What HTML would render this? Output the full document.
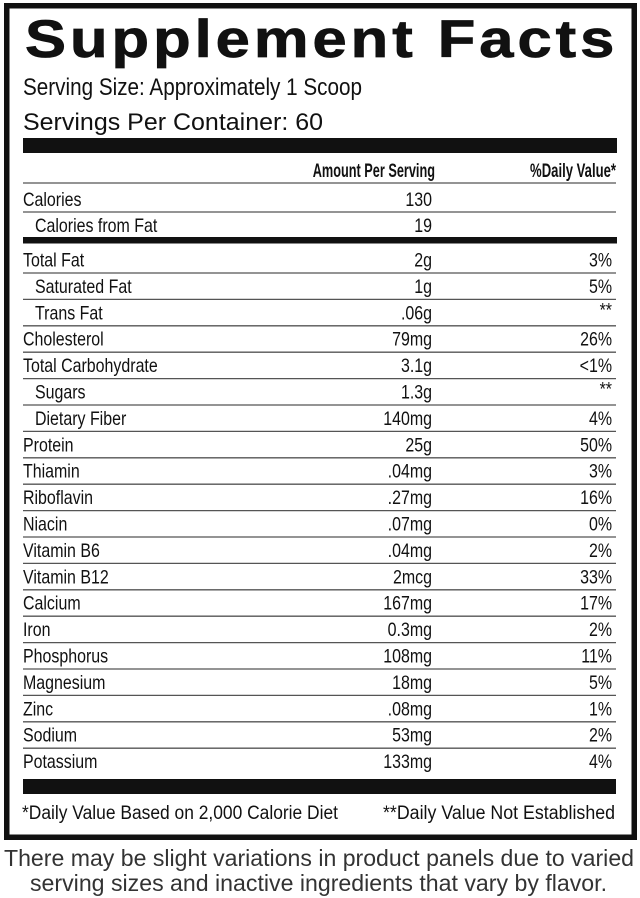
<!DOCTYPE html>
<html>
<head>
<meta charset="utf-8">
<style>
html,body{margin:0;padding:0;background:#fff;}
svg{display:block;}
text{font-family:"Liberation Sans",sans-serif;fill:#111;}
.r{font-size:19px;}
.b{font-weight:bold;}
</style>
</head>
<body>
<svg width="640" height="898" viewBox="0 0 640 898" xmlns="http://www.w3.org/2000/svg">
<rect x="0" y="0" width="640" height="898" fill="#fff"/>
<!-- outer border -->
<rect x="6.75" y="5.75" width="627.5" height="831.5" fill="none" stroke="#111" stroke-width="5.5"/>

<!-- title -->
<text class="b" transform="translate(25,57) scale(1.16,1)" font-size="53" stroke="#111" stroke-width="0.8" textLength="508" lengthAdjust="spacing">Supplement Facts</text>
<text x="23" y="95" font-size="24.5" textLength="339" lengthAdjust="spacingAndGlyphs">Serving Size: Approximately 1 Scoop</text>
<text x="23" y="130" font-size="24.5" textLength="300" lengthAdjust="spacingAndGlyphs">Servings Per Container: 60</text>

<!-- bars -->
<rect x="23" y="138" width="594" height="15" fill="#111"/>
<rect x="23" y="237" width="594" height="6.5" fill="#111"/>
<rect x="23" y="779" width="593" height="15" fill="#111"/>

<!-- header -->
<text class="r b" text-anchor="end" transform="translate(435,177) scale(0.67,1)">Amount Per Serving</text>
<text class="r b" text-anchor="end" transform="translate(616,177) scale(0.69,1)">%Daily Value*</text>
<line x1="23" y1="183" x2="616" y2="183" stroke="#555" stroke-width="1.3"/>

<text class="r" transform="translate(23,206) scale(0.84,1)">Calories</text>
<text class="r" text-anchor="end" transform="translate(432,206) scale(0.84,1)">130</text>
<line x1="23" y1="212" x2="616" y2="212" stroke="#555" stroke-width="1.3"/>
<text class="r" transform="translate(35,232) scale(0.84,1)">Calories from Fat</text>
<text class="r" text-anchor="end" transform="translate(432,232) scale(0.84,1)">19</text>

<!-- row lines -->
<g stroke="#555" stroke-width="1.3">
<line x1="23" y1="273" x2="616" y2="273"/>
<line x1="23" y1="299.4" x2="616" y2="299.4"/>
<line x1="23" y1="325.8" x2="616" y2="325.8"/>
<line x1="23" y1="352.2" x2="616" y2="352.2"/>
<line x1="23" y1="378.6" x2="616" y2="378.6"/>
<line x1="23" y1="405" x2="616" y2="405"/>
<line x1="23" y1="431.4" x2="616" y2="431.4"/>
<line x1="23" y1="457.8" x2="616" y2="457.8"/>
<line x1="23" y1="484.2" x2="616" y2="484.2"/>
<line x1="23" y1="510.6" x2="616" y2="510.6"/>
<line x1="23" y1="537" x2="616" y2="537"/>
<line x1="23" y1="563.4" x2="616" y2="563.4"/>
<line x1="23" y1="589.8" x2="616" y2="589.8"/>
<line x1="23" y1="616.2" x2="616" y2="616.2"/>
<line x1="23" y1="642.6" x2="616" y2="642.6"/>
<line x1="23" y1="669" x2="616" y2="669"/>
<line x1="23" y1="695.4" x2="616" y2="695.4"/>
<line x1="23" y1="721.8" x2="616" y2="721.8"/>
<line x1="23" y1="748.2" x2="616" y2="748.2"/>
</g>

<!-- rows -->
<g class="r">
<text class="r" transform="translate(23,266.5) scale(0.84,1)">Total Fat</text>
<text class="r" text-anchor="end" transform="translate(432,266.5) scale(0.84,1)">2g</text>
<text class="r" text-anchor="end" transform="translate(612,266.5) scale(0.84,1)">3%</text>

<text class="r" transform="translate(35,292.9) scale(0.84,1)">Saturated Fat</text>
<text class="r" text-anchor="end" transform="translate(432,292.9) scale(0.84,1)">1g</text>
<text class="r" text-anchor="end" transform="translate(612,292.9) scale(0.84,1)">5%</text>

<text class="r" transform="translate(35,319.3) scale(0.84,1)">Trans Fat</text>
<text class="r" text-anchor="end" transform="translate(432,319.3) scale(0.84,1)">.06g</text>
<text class="r" text-anchor="end" transform="translate(612,316.3) scale(0.84,1)" fill="#444">**</text>

<text class="r" transform="translate(23,345.7) scale(0.84,1)">Cholesterol</text>
<text class="r" text-anchor="end" transform="translate(432,345.7) scale(0.84,1)">79mg</text>
<text class="r" text-anchor="end" transform="translate(612,345.7) scale(0.84,1)">26%</text>

<text class="r" transform="translate(23,372.1) scale(0.84,1)">Total Carbohydrate</text>
<text class="r" text-anchor="end" transform="translate(432,372.1) scale(0.84,1)">3.1g</text>
<text class="r" text-anchor="end" transform="translate(612,372.1) scale(0.84,1)">&lt;1%</text>

<text class="r" transform="translate(35,398.5) scale(0.84,1)">Sugars</text>
<text class="r" text-anchor="end" transform="translate(432,398.5) scale(0.84,1)">1.3g</text>
<text class="r" text-anchor="end" transform="translate(612,395.5) scale(0.84,1)" fill="#444">**</text>

<text class="r" transform="translate(35,424.9) scale(0.84,1)">Dietary Fiber</text>
<text class="r" text-anchor="end" transform="translate(432,424.9) scale(0.84,1)">140mg</text>
<text class="r" text-anchor="end" transform="translate(612,424.9) scale(0.84,1)">4%</text>

<text class="r" transform="translate(23,451.3) scale(0.84,1)">Protein</text>
<text class="r" text-anchor="end" transform="translate(432,451.3) scale(0.84,1)">25g</text>
<text class="r" text-anchor="end" transform="translate(612,451.3) scale(0.84,1)">50%</text>

<text class="r" transform="translate(23,477.7) scale(0.84,1)">Thiamin</text>
<text class="r" text-anchor="end" transform="translate(432,477.7) scale(0.84,1)">.04mg</text>
<text class="r" text-anchor="end" transform="translate(612,477.7) scale(0.84,1)">3%</text>

<text class="r" transform="translate(23,504.1) scale(0.84,1)">Riboflavin</text>
<text class="r" text-anchor="end" transform="translate(432,504.1) scale(0.84,1)">.27mg</text>
<text class="r" text-anchor="end" transform="translate(612,504.1) scale(0.84,1)">16%</text>

<text class="r" transform="translate(23,530.5) scale(0.84,1)">Niacin</text>
<text class="r" text-anchor="end" transform="translate(432,530.5) scale(0.84,1)">.07mg</text>
<text class="r" text-anchor="end" transform="translate(612,530.5) scale(0.84,1)">0%</text>

<text class="r" transform="translate(23,556.9) scale(0.84,1)">Vitamin B6</text>
<text class="r" text-anchor="end" transform="translate(432,556.9) scale(0.84,1)">.04mg</text>
<text class="r" text-anchor="end" transform="translate(612,556.9) scale(0.84,1)">2%</text>

<text class="r" transform="translate(23,583.3) scale(0.84,1)">Vitamin B12</text>
<text class="r" text-anchor="end" transform="translate(432,583.3) scale(0.84,1)">2mcg</text>
<text class="r" text-anchor="end" transform="translate(612,583.3) scale(0.84,1)">33%</text>

<text class="r" transform="translate(23,609.7) scale(0.84,1)">Calcium</text>
<text class="r" text-anchor="end" transform="translate(432,609.7) scale(0.84,1)">167mg</text>
<text class="r" text-anchor="end" transform="translate(612,609.7) scale(0.84,1)">17%</text>

<text class="r" transform="translate(23,636.1) scale(0.84,1)">Iron</text>
<text class="r" text-anchor="end" transform="translate(432,636.1) scale(0.84,1)">0.3mg</text>
<text class="r" text-anchor="end" transform="translate(612,636.1) scale(0.84,1)">2%</text>

<text class="r" transform="translate(23,662.5) scale(0.84,1)">Phosphorus</text>
<text class="r" text-anchor="end" transform="translate(432,662.5) scale(0.84,1)">108mg</text>
<text class="r" text-anchor="end" transform="translate(612,662.5) scale(0.84,1)">11%</text>

<text class="r" transform="translate(23,688.9) scale(0.84,1)">Magnesium</text>
<text class="r" text-anchor="end" transform="translate(432,688.9) scale(0.84,1)">18mg</text>
<text class="r" text-anchor="end" transform="translate(612,688.9) scale(0.84,1)">5%</text>

<text class="r" transform="translate(23,715.3) scale(0.84,1)">Zinc</text>
<text class="r" text-anchor="end" transform="translate(432,715.3) scale(0.84,1)">.08mg</text>
<text class="r" text-anchor="end" transform="translate(612,715.3) scale(0.84,1)">1%</text>

<text class="r" transform="translate(23,741.7) scale(0.84,1)">Sodium</text>
<text class="r" text-anchor="end" transform="translate(432,741.7) scale(0.84,1)">53mg</text>
<text class="r" text-anchor="end" transform="translate(612,741.7) scale(0.84,1)">2%</text>

<text class="r" transform="translate(23,768.1) scale(0.84,1)">Potassium</text>
<text class="r" text-anchor="end" transform="translate(432,768.1) scale(0.84,1)">133mg</text>
<text class="r" text-anchor="end" transform="translate(612,768.1) scale(0.84,1)">4%</text>
</g>

<!-- footnotes -->
<text x="22" y="819" font-size="19" textLength="316" lengthAdjust="spacingAndGlyphs">*Daily Value Based on 2,000 Calorie Diet</text>
<text x="383" y="819" font-size="19" textLength="232" lengthAdjust="spacingAndGlyphs">**Daily Value Not Established</text>

<!-- caption -->
<text x="4" y="866" font-size="23" style="fill:#333" textLength="630" lengthAdjust="spacingAndGlyphs">There may be slight variations in product panels due to varied</text>
<text x="30" y="891" font-size="23" style="fill:#333" textLength="577" lengthAdjust="spacingAndGlyphs">serving sizes and inactive ingredients that vary by flavor.</text>
</svg>
</body>
</html>
